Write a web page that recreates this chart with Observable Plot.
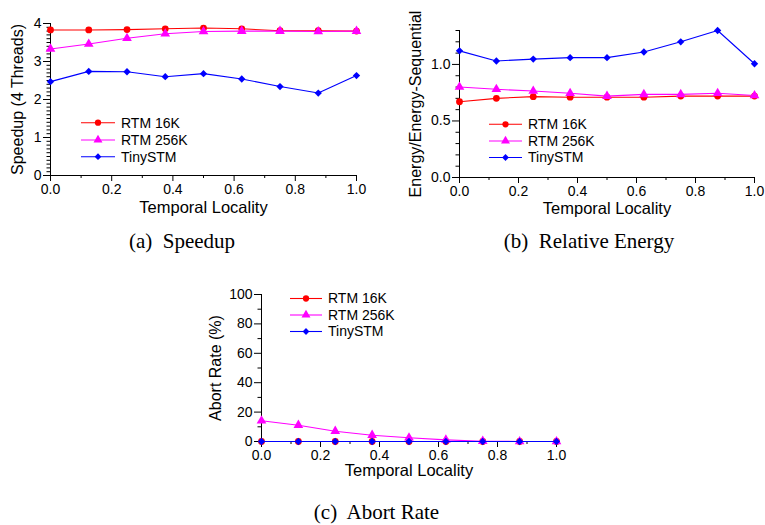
<!DOCTYPE html>
<html><head><meta charset="utf-8">
<script src="https://cdn.jsdelivr.net/npm/d3@7"></script>
<script src="https://cdn.jsdelivr.net/npm/@observablehq/plot@0.6"></script>
<style>
body{margin:0;background:#fff;}
#root{position:relative;width:765px;height:525px;background:#fff;overflow:hidden;}
.panel{position:absolute;}
.cap{position:absolute;font-family:"Liberation Serif","Times New Roman",serif;font-size:21px;color:#000;white-space:pre;transform:translate(-50%,-50%);line-height:1;}
</style></head><body><div id="root"></div>
<script>
// ---- data ----
const locality = [0, 0.125, 0.25, 0.375, 0.5, 0.625, 0.75, 0.875, 1.0];
const seriesNames = ["RTM 16K", "RTM 256K", "TinySTM"];

const speedupRTM16K  = [3.83, 3.83, 3.84, 3.86, 3.88, 3.86, 3.81, 3.81, 3.80];
const speedupRTM256K = [3.33, 3.46, 3.61, 3.73, 3.79, 3.80, 3.80, 3.79, 3.80];
const speedupTinySTM = [2.47, 2.74, 2.73, 2.60, 2.68, 2.54, 2.34, 2.17, 2.63];

const energyRTM16K  = [0.67, 0.70, 0.715, 0.71, 0.71, 0.71, 0.72, 0.72, 0.72];
const energyRTM256K = [0.80, 0.78, 0.765, 0.745, 0.72, 0.735, 0.735, 0.745, 0.725];
const energyTinySTM = [1.12, 1.03, 1.047, 1.06, 1.06, 1.11, 1.20, 1.30, 1.006];

const abortRTM16K  = [0, 0, 0, 0, 0, 0, 0, 0, 0];
const abortRTM256K = [14.1, 11.1, 7.0, 4.3, 2.5, 1.1, 0.2, 0, 0];
const abortTinySTM = [0, 0, 0, 0, 0, 0, 0, 0, 0];

const xTicks = [0, 0.2, 0.4, 0.6, 0.8, 1.0];
const xMinor = [0.1, 0.3, 0.5, 0.7, 0.9];
const speedupTicks = [0, 1, 2, 3, 4];
const energyTicks = [0, 0.5, 1.0];
const abortTicks = [0, 20, 40, 60, 80, 100];
const captions = ["(a)  Speedup", "(b)  Relative Energy", "(c)  Abort Rate"];

// ---- styles ----
const styles = [
  {color: "#ff0000", symbol: "circle", r: 3.4},
  {color: "#ff00ff", symbol: "triangle", r: 3.6},
  {color: "#0000ff", symbol: "diamond2", r: 3.3}
];
const symbolTypes = {circle: d3.symbolCircle, triangle: d3.symbolTriangle, diamond2: d3.symbolDiamond2};

function minorTicks(step, max, majors) {
  const out = [];
  for (let i = 0; i * step <= max + 1e-9; i++) {
    const v = +(i * step).toFixed(6);
    if (!majors.some(m => Math.abs(m - v) < 1e-9)) out.push(v);
  }
  return out;
}

function makePanel(cfg) {
  const marks = [
    Plot.ruleX([0], {stroke: "#000", strokeWidth: 1}),
    Plot.ruleY([cfg.yDomain[0]], {stroke: "#000", strokeWidth: 1}),
    Plot.axisX({ticks: xTicks, tickSize: 6, tickPadding: 3, tickFormat: d3.format(".1f"), label: null}),
    Plot.axisX({ticks: xMinor, tickSize: 3, tickFormat: () => "", label: null}),
    Plot.axisY({ticks: cfg.yTicks, tickSize: 7, tickPadding: 2, tickFormat: cfg.yFormat, label: null}),
    Plot.axisY({ticks: cfg.yMinor, tickSize: 3.5, tickFormat: () => "", label: null}),
    Plot.text([cfg.xlabel], {text: d => d, frameAnchor: "bottom", textAnchor: "middle", dy: cfg.xlabelDy, fontSize: 16.5}),
    Plot.text([cfg.ylabel], {text: d => d, frameAnchor: "left", textAnchor: "middle", rotate: -90, dx: cfg.ylabelDx, fontSize: 16})
  ];
  cfg.series.forEach((vals, k) => {
    const st = styles[k];
    marks.push(Plot.line(vals, {x: (d, i) => locality[i], y: d => d, stroke: st.color, strokeWidth: 1.1}));
    marks.push(Plot.dot(vals, {x: (d, i) => locality[i], y: d => d, symbol: st.symbol, r: st.r, fill: st.color, stroke: "none"}));
  });
  const svg = Plot.plot({
    width: cfg.width, height: cfg.height,
    marginLeft: cfg.m[0], marginRight: cfg.m[1], marginTop: cfg.m[2], marginBottom: cfg.m[3],
    x: {domain: [0, 1], label: null},
    y: {domain: cfg.yDomain, label: null},
    style: {fontSize: "14px", fontFamily: "'Liberation Sans', Arial, sans-serif", color: "#000", background: "transparent", overflow: "visible"},
    marks
  });
  // legend
  const g = d3.select(svg).append("g").attr("font-family", "'Liberation Sans', Arial, sans-serif")
    .attr("font-size", 14).attr("text-anchor", "start");
  const L = cfg.legend;
  seriesNames.forEach((name, k) => {
    const st = styles[k], y = L.ys[k];
    g.append("line").attr("x1", L.x0).attr("x2", L.x1).attr("y1", y).attr("y2", y)
      .attr("stroke", st.color).attr("stroke-width", 1.1);
    g.append("path").attr("d", d3.symbol(symbolTypes[st.symbol], st.r * st.r * Math.PI * 0.85)())
      .attr("transform", `translate(${(L.x0 + L.x1) / 2},${y})`).attr("fill", st.color);
    g.append("text").attr("x", L.tx).attr("y", y).attr("dy", "0.35em").attr("text-anchor", "start")
      .attr("fill", "#000").text(name);
  });
  const wrap = document.createElement("div");
  wrap.className = "panel";
  wrap.style.left = cfg.left + "px";
  wrap.style.top = cfg.top + "px";
  wrap.appendChild(svg);
  return wrap;
}

const root = document.getElementById("root");
root.appendChild(makePanel({
  left: 0, top: 0, width: 380, height: 225, m: [50, 24, 23, 50],
  yDomain: [0, 4], yTicks: speedupTicks, yMinor: minorTicks(0.1, 4, speedupTicks), yFormat: d3.format("d"),
  xlabel: "Temporal Locality", ylabel: "Speedup (4 Threads)", xlabelDy: 37, ylabelDx: -33,
  series: [speedupRTM16K, speedupRTM256K, speedupTinySTM],
  legend: {x0: 81, x1: 115, tx: 121, ys: [122.7, 140, 156.7]}
}));
root.appendChild(makePanel({
  left: 385, top: 0, width: 380, height: 225, m: [74, 11, 30, 48],
  yDomain: [0, 1.3], yTicks: energyTicks, yMinor: minorTicks(0.1, 1.3, energyTicks), yFormat: d3.format(".1f"),
  xlabel: "Temporal Locality", ylabel: "Energy/Energy-Sequential", xlabelDy: 36, ylabelDx: -44,
  series: [energyRTM16K, energyRTM256K, energyTinySTM],
  legend: {x0: 104, x1: 137, tx: 143, ys: [124.3, 141, 157.5]}
}));
root.appendChild(makePanel({
  left: 190, top: 270, width: 400, height: 225, m: [71, 34, 24, 54],
  yDomain: [0, 100], yTicks: abortTicks, yMinor: minorTicks(10, 100, abortTicks), yFormat: d3.format("d"),
  xlabel: "Temporal Locality", ylabel: "Abort Rate (%)", xlabelDy: 34.5, ylabelDx: -46,
  series: [abortRTM16K, abortRTM256K, abortTinySTM],
  legend: {x0: 100, x1: 132, tx: 138, ys: [28.5, 45, 61.5]}
}));

const capPos = [[182, 241], [589, 241], [376.5, 512]];
captions.forEach((c, i) => {
  const d = document.createElement("div");
  d.className = "cap";
  d.style.left = capPos[i][0] + "px";
  d.style.top = capPos[i][1] + "px";
  d.textContent = c;
  root.appendChild(d);
});
</script>
</body></html>
